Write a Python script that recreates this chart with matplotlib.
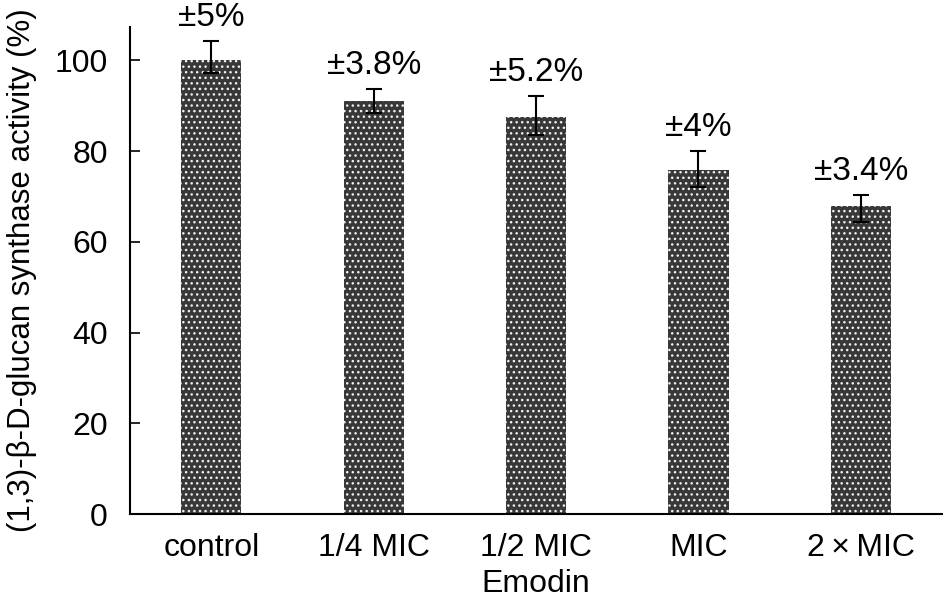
import matplotlib
matplotlib.use("Agg")
import matplotlib.pyplot as plt

# values
groups = ["control", "1/4 MIC", "1/2 MIC", "MIC", "2\u2009\u00d7\u2009MIC"]
activity = [100.0, 91.0, 87.5, 75.9, 67.8]
err_low = [2.9, 2.7, 3.9, 3.8, 3.4]
err_high = [4.2, 2.6, 4.6, 4.0, 2.5]
labels = ["\u00b15%", "\u00b13.8%", "\u00b15.2%", "\u00b14%", "\u00b13.4%"]

plt.rcParams['font.family'] = ['Liberation Sans', 'DejaVu Sans']
plt.rcParams['hatch.linewidth'] = 1.0
plt.rcParams['hatch.color'] = '#f0f0f0'

fig = plt.figure(figsize=(9.43, 6.04), dpi=100)
ax = fig.add_axes([0.138, 0.149, 0.861, 0.806])

x = list(range(len(groups)))
ax.bar(x, activity, width=0.37, color='#383838', edgecolor='#f0f0f0',
       hatch='...', linewidth=0, zorder=2)
ax.errorbar(x, activity, yerr=[err_low, err_high], fmt='none', ecolor='black',
            elinewidth=1.5, capsize=6, capthick=1.5, zorder=3)

for i in x:
    ax.annotate(labels[i], (i, activity[i] + err_high[i]), xytext=(0, 11),
                textcoords='offset points', ha='center', va='baseline', fontsize=24)

ax.set_xlim(-0.5, 4.5)
ax.set_ylim(0, 107.3)
ax.set_yticks([0, 20, 40, 60, 80, 100])
ax.set_xticks(x)
ax.set_xticklabels(groups)
ax.tick_params(axis='y', direction='in', length=7, width=1.2, pad=16, labelsize=23)
ax.tick_params(axis='x', length=0, pad=14, labelsize=23)
for s in ['top', 'right']:
    ax.spines[s].set_visible(False)
for s in ['left', 'bottom']:
    ax.spines[s].set_linewidth(1.5)

ax.set_xlabel("Emodin", fontsize=23, labelpad=4)
ax.set_ylabel("(1,3)-\u03b2-D-glucan synthase activity (%)", fontsize=22.5, labelpad=13)

fig.savefig("out.png", dpi=100)
